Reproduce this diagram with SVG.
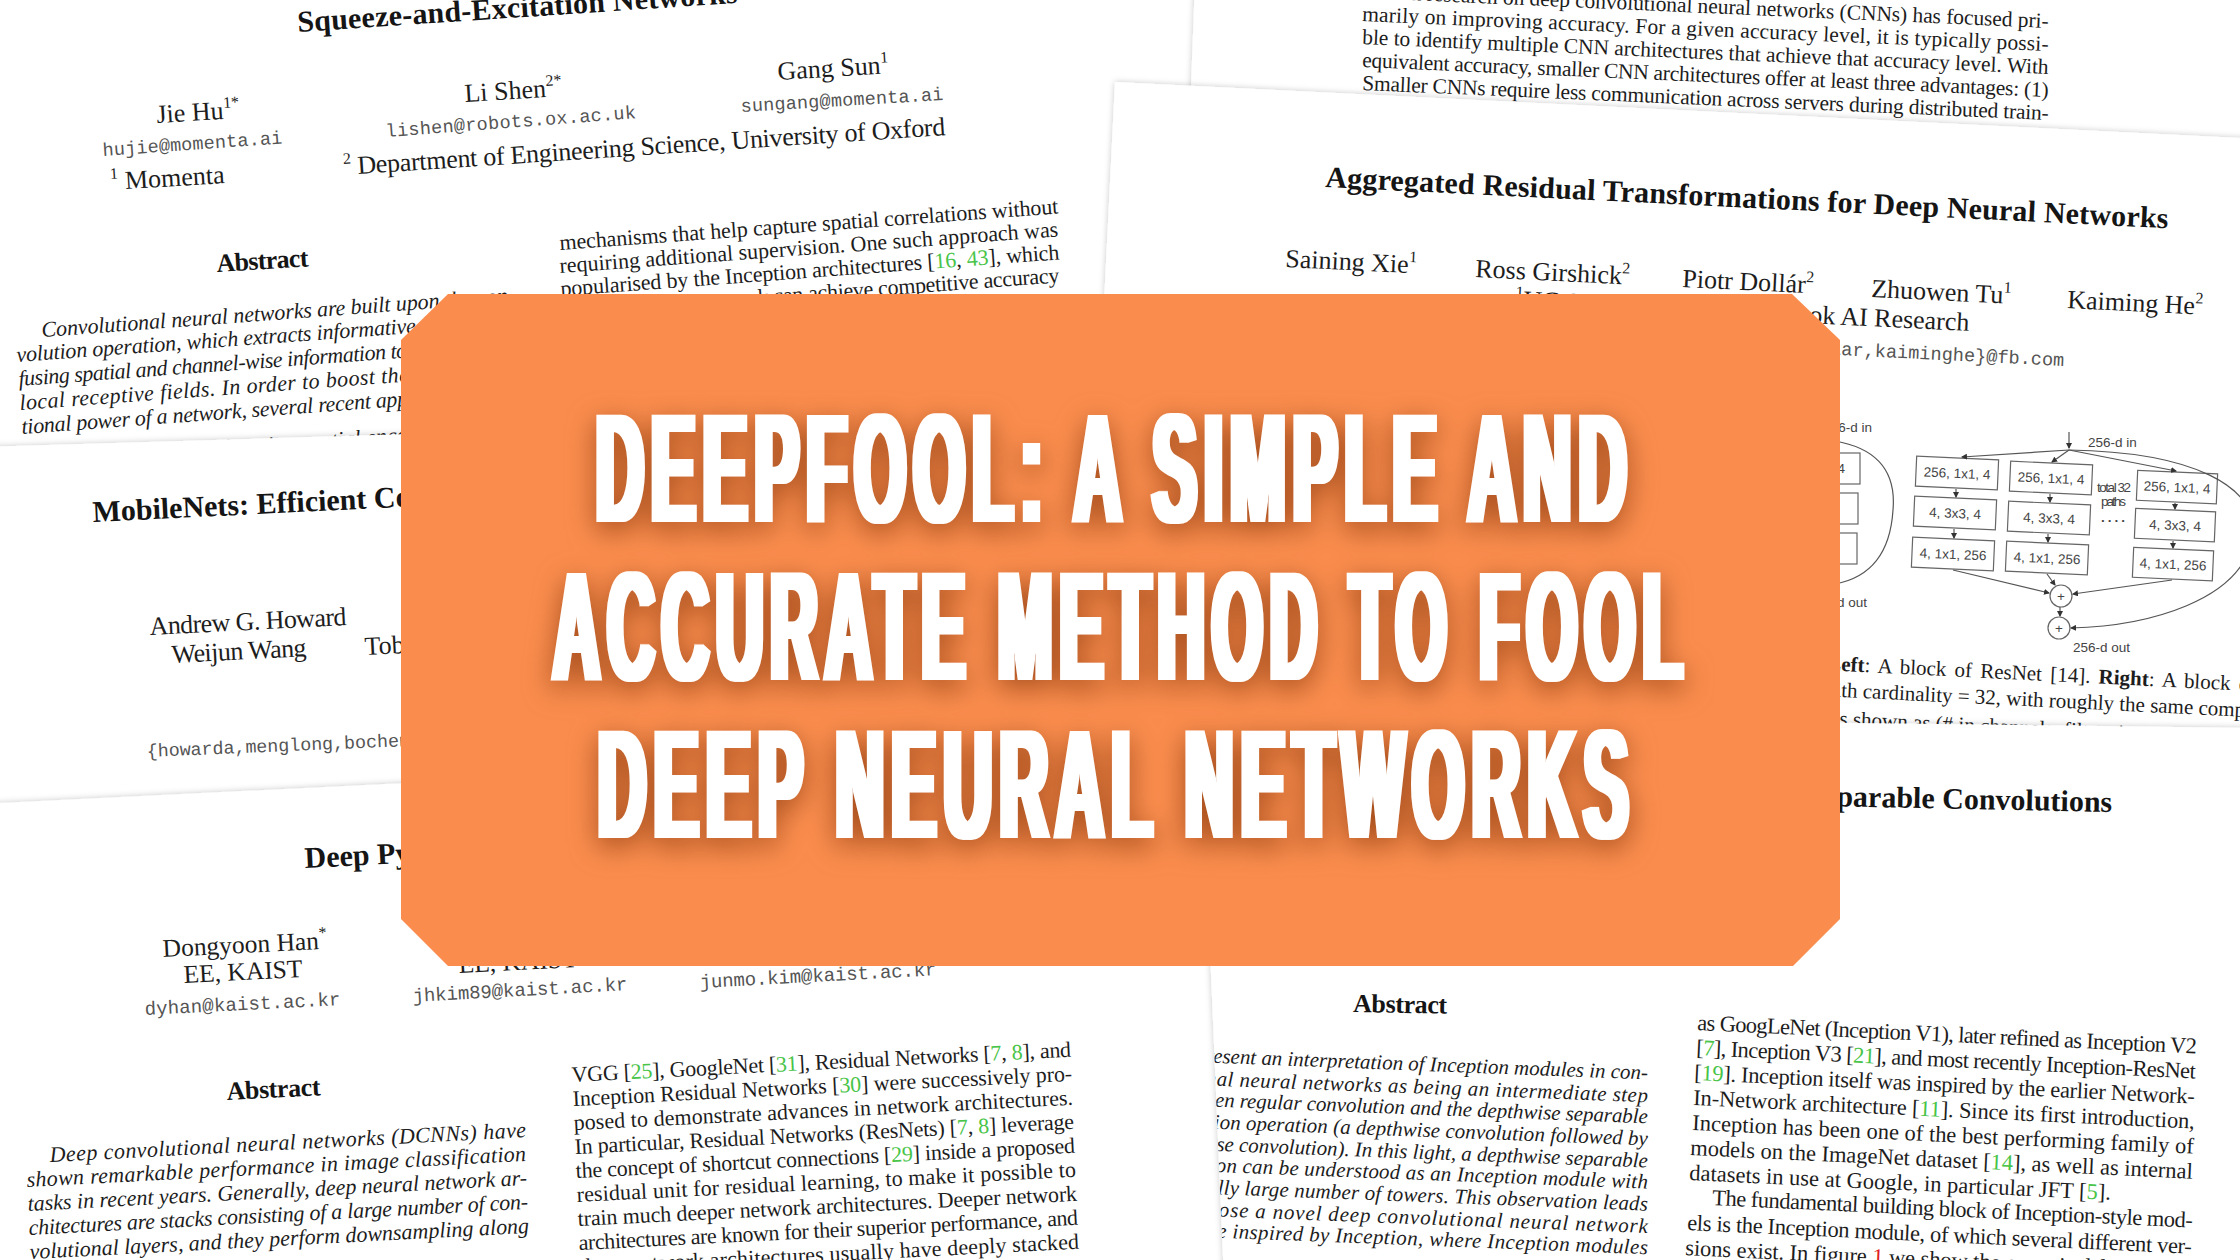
<svg xmlns="http://www.w3.org/2000/svg" width="2240" height="1260" viewBox="0 0 2240 1260">
<defs>
<style>
.s{font-family:"Liberation Serif","Times New Roman",serif;fill:#1d1d1d}
.sb{font-family:"Liberation Serif","Times New Roman",serif;font-weight:bold;fill:#151515}
.si{font-family:"Liberation Serif","Times New Roman",serif;font-style:italic;fill:#1d1d1d}
.m{font-family:"Liberation Mono","Courier New",monospace;fill:#555}
.g{fill:#48c448}
.r{fill:#e02020}
.paper{fill:#fff;filter:url(#psh)}
.fig{font-family:"Liberation Sans",Arial,sans-serif;font-size:13.5px;fill:#444}
.box{fill:#fff;stroke:#666;stroke-width:1.2}
.ln{fill:none;stroke:#555;stroke-width:1.2}
.ttl{font-family:"Liberation Sans",Arial,sans-serif;font-weight:bold;font-size:156px;letter-spacing:18px;fill:#fff}
</style>
<filter id="psh" x="-5%" y="-5%" width="110%" height="110%">
<feDropShadow dx="0" dy="0" stdDeviation="3" flood-color="#000" flood-opacity="0.22"/>
</filter>
<filter id="tfx" x="-6%" y="-20%" width="112%" height="140%" color-interpolation-filters="sRGB">
<feMorphology in="SourceGraphic" operator="dilate" radius="3.5 0" result="fat"/>
<feGaussianBlur in="fat" stdDeviation="14" result="blur"/>
<feFlood flood-color="#86360a" flood-opacity="0.75"/>
<feComposite operator="in" in2="blur" result="shadow"/>
<feOffset in="shadow" dx="0" dy="8" result="sh2"/>
<feMerge><feMergeNode in="sh2"/><feMergeNode in="fat"/></feMerge>
</filter>
<marker id="ah" viewBox="0 0 6 6" refX="5" refY="3" markerWidth="5" markerHeight="5" orient="auto"><path d="M0,0 L6,3 L0,6 z" fill="#333"/></marker>
<clipPath id="clipD"><polygon points="1200,715 2240,728 2240,1260 1223,1260"/></clipPath>
</defs>

<rect x="0" y="0" width="2240" height="1260" fill="#fff"/>

<!-- Paper A: Squeeze-and-Excitation Networks -->
<g id="paper-senet">
<rect class="paper" x="-20" y="-20" width="1230" height="560"/>
<text class="sb" font-size="30" x="298" y="32" transform="rotate(-3.8 298 32)" textLength="441">Squeeze-and-Excitation Networks</text>
<text class="s" font-size="26" x="157" y="123" transform="rotate(-3.5 157 123)">Jie Hu<tspan font-size="16" dy="-11">1*</tspan></text>
<text class="m" font-size="18.5" x="103" y="156" transform="rotate(-4 103 156)" textLength="180">hujie@momenta.ai</text>
<text class="s" font-size="26" x="111" y="190" transform="rotate(-3.5 111 190)"><tspan font-size="16" dy="-11">1</tspan><tspan dy="11"> Momenta</tspan></text>
<text class="s" font-size="26" x="465" y="102" transform="rotate(-3.5 465 102)">Li Shen<tspan font-size="16" dy="-11">2*</tspan></text>
<text class="m" font-size="18.5" x="386" y="137" transform="rotate(-4.3 386 137)" textLength="251">lishen@robots.ox.ac.uk</text>
<text class="s" font-size="26" x="778" y="80" transform="rotate(-3.5 778 80)">Gang Sun<tspan font-size="16" dy="-11">1</tspan></text>
<text class="m" font-size="18.5" x="741" y="112" transform="rotate(-3.4 741 112)" textLength="203">sungang@momenta.ai</text>
<text class="s" font-size="26" x="344" y="175" transform="rotate(-3.8 344 175)" textLength="603"><tspan font-size="16" dy="-11">2</tspan><tspan dy="11"> Department of Engineering Science, University of Oxford</tspan></text>
<text class="sb" font-size="26" x="217" y="272" transform="rotate(-3.5 217 272)" textLength="92">Abstract</text>
<g class="si" font-size="22">
<text x="42" y="337" transform="rotate(-4.2 42 337)" textLength="475">Convolutional neural networks are built upon the con-</text>
<text x="17" y="362" transform="rotate(-4.2 17 362)" textLength="500">volution operation, which extracts informative features by</text>
<text x="19" y="386" transform="rotate(-4.2 19 386)" textLength="500">fusing spatial and channel-wise information together within</text>
<text x="20" y="410" transform="rotate(-4.2 20 410)" textLength="500">local receptive fields.  In order to boost the representa-</text>
<text x="22" y="434" transform="rotate(-4.2 22 434)" textLength="500">tional power of a network, several recent approaches have</text>
<text x="23" y="470" transform="rotate(-4.2 23 470)">shown the benefit of enhancing spatial encoding.</text>
</g>
<g class="s" font-size="22">
<text x="560" y="250" transform="rotate(-4.2 560 250)" textLength="500">mechanisms that help capture spatial correlations without</text>
<text x="560" y="273" transform="rotate(-4.2 560 273)" textLength="500">requiring additional supervision.  One such approach was</text>
<text x="561" y="296" transform="rotate(-4.2 561 296)" textLength="500">popularised by the Inception architectures [<tspan class="g">16</tspan>, <tspan class="g">43</tspan>], which</text>
<text x="561" y="319" transform="rotate(-4.2 561 319)" textLength="500">showed that the network can achieve competitive accuracy</text>
</g>
</g>

<!-- Paper B: SqueezeNet text -->
<g id="paper-squeezenet">
<polygon class="paper" points="1195,-20 2260,-20 2260,220 1186,220"/>
<g class="s" font-size="21.5">
<text x="1362" y="-2" transform="rotate(2.5 1362 -2)" textLength="687">Recent research on deep convolutional neural networks (CNNs) has focused pri-</text>
<text x="1362" y="21" transform="rotate(2.5 1362 21)" textLength="687">marily on improving accuracy.  For a given accuracy level, it is typically possi-</text>
<text x="1362" y="44" transform="rotate(2.5 1362 44)" textLength="687">ble to identify multiple CNN architectures that achieve that accuracy level.  With</text>
<text x="1362" y="67" transform="rotate(2.5 1362 67)" textLength="687">equivalent accuracy, smaller CNN architectures offer at least three advantages: (1)</text>
<text x="1362" y="90" transform="rotate(2.5 1362 90)" textLength="687">Smaller CNNs require less communication across servers during distributed train-</text>
</g>
</g>

<!-- Paper C: ResNeXt -->
<g id="paper-resnext">
<rect class="paper" x="1115" y="82" width="1200" height="680" transform="rotate(2.85 1115 82)"/>
<text class="sb" font-size="30" x="1325" y="187" transform="rotate(2.8 1325 187)" textLength="844">Aggregated Residual Transformations for Deep Neural Networks</text>
<text class="s" font-size="26" x="1285" y="267" transform="rotate(2.8 1285 267)">Saining Xie<tspan font-size="16" dy="-11">1</tspan></text>
<text class="s" font-size="26" x="1475" y="277" transform="rotate(2.8 1475 277)">Ross Girshick<tspan font-size="16" dy="-11">2</tspan></text>
<text class="s" font-size="26" x="1682" y="287" transform="rotate(2.8 1682 287)">Piotr Dollár<tspan font-size="16" dy="-11">2</tspan></text>
<text class="s" font-size="26" x="1871" y="297" transform="rotate(2.8 1871 297)">Zhuowen Tu<tspan font-size="16" dy="-11">1</tspan></text>
<text class="s" font-size="26" x="2067" y="308" transform="rotate(2.8 2067 308)">Kaiming He<tspan font-size="16" dy="-11">2</tspan></text>
<text class="s" font-size="26" x="1515" y="308" transform="rotate(2.8 1515 308)"><tspan font-size="16" dy="-11">1</tspan><tspan dy="11">UC San Diego</tspan></text>
<text class="s" font-size="26" x="1969" y="331" text-anchor="end" transform="rotate(2.8 1969 331)"><tspan font-size="16" dy="-11">2</tspan><tspan dy="11">Facebook AI Research</tspan></text>
<text class="m" font-size="18.6" x="2064" y="366" text-anchor="end" transform="rotate(2.8 2064 366)">{s9xie,ztu}@ucsd.edu  {rbg,pdollar,kaiminghe}@fb.com</text>

<g id="resnet-block">
<rect class="box" x="1770" y="453" width="90" height="31"/>
<rect class="box" x="1768" y="493" width="90" height="31"/>
<rect class="box" x="1767" y="533" width="90" height="31"/>
<text class="fig" x="1845" y="473" text-anchor="end">256, 1x1, 64</text>
<text class="fig" x="1872" y="432" text-anchor="end" font-size="12.5">256-d in</text>
<text class="fig" x="1867" y="607" text-anchor="end" font-size="12.5">256-d out</text>
</g>
<g id="resnext-block">
<g transform="rotate(2.5 1957 473)"><rect class="box" x="1916" y="458" width="82" height="30"/><text class="fig" x="1957" y="478" text-anchor="middle">256, 1x1, 4</text></g>
<g transform="rotate(2.5 1955 513)"><rect class="box" x="1914" y="498" width="82" height="30"/><text class="fig" x="1955" y="518" text-anchor="middle">4, 3x3, 4</text></g>
<g transform="rotate(2.5 1953 554)"><rect class="box" x="1912" y="539" width="82" height="30"/><text class="fig" x="1953" y="559" text-anchor="middle">4, 1x1, 256</text></g>
<g transform="rotate(2.5 2051 478)"><rect class="box" x="2010" y="463" width="82" height="30"/><text class="fig" x="2051" y="483" text-anchor="middle">256, 1x1, 4</text></g>
<g transform="rotate(2.5 2049 518)"><rect class="box" x="2008" y="503" width="82" height="30"/><text class="fig" x="2049" y="523" text-anchor="middle">4, 3x3, 4</text></g>
<g transform="rotate(2.5 2047 558)"><rect class="box" x="2006" y="543" width="82" height="30"/><text class="fig" x="2047" y="563" text-anchor="middle">4, 1x1, 256</text></g>
<g transform="rotate(2.5 2176 487)"><rect class="box" x="2137" y="472" width="80" height="30"/><text class="fig" x="2177" y="492" text-anchor="middle">256, 1x1, 4</text></g>
<g transform="rotate(2.5 2174 525)"><rect class="box" x="2135" y="510" width="80" height="30"/><text class="fig" x="2175" y="530" text-anchor="middle">4, 3x3, 4</text></g>
<g transform="rotate(2.5 2172 564)"><rect class="box" x="2133" y="549" width="80" height="30"/><text class="fig" x="2173" y="569" text-anchor="middle">4, 1x1, 256</text></g>
<text class="fig" x="2088" y="447" font-size="12.5">256-d in</text>
<text class="fig" x="2097" y="492" font-size="10.5" textLength="34">total 32</text>
<text class="fig" x="2101" y="506" font-size="10.5" textLength="25">paths</text>
<text class="fig" x="2101" y="522" font-size="13" font-weight="bold" textLength="24">....</text>
<circle class="box" cx="2061" cy="596" r="11"/>
<circle class="box" cx="2059" cy="628" r="11"/>
<text class="fig" x="2061" y="601" text-anchor="middle" font-size="14">+</text>
<text class="fig" x="2059" y="633" text-anchor="middle" font-size="14">+</text>
<text class="fig" x="2073" y="652" font-size="12.5">256-d out</text>
</g>
<g id="resnext-connectors">
<path class="ln" d="M1835,441 Q1898,452 1893,510 Q1889,574 1835,584"/>
<line class="ln" x1="2069" y1="432" x2="2069" y2="448" marker-end="url(#ah)"/>
<line class="ln" x1="2069" y1="450" x2="1962" y2="457" marker-end="url(#ah)"/>
<line class="ln" x1="2069" y1="450" x2="2052" y2="462" marker-end="url(#ah)"/>
<line class="ln" x1="2069" y1="450" x2="2176" y2="471" marker-end="url(#ah)"/>
<line class="ln" x1="1956" y1="489" x2="1956" y2="497" marker-end="url(#ah)"/>
<line class="ln" x1="1954" y1="529" x2="1954" y2="538" marker-end="url(#ah)"/>
<line class="ln" x1="2050" y1="494" x2="2050" y2="502" marker-end="url(#ah)"/>
<line class="ln" x1="2048" y1="534" x2="2048" y2="542" marker-end="url(#ah)"/>
<line class="ln" x1="2175" y1="503" x2="2175" y2="509" marker-end="url(#ah)"/>
<line class="ln" x1="2173" y1="541" x2="2173" y2="548" marker-end="url(#ah)"/>
<line class="ln" x1="1953" y1="570" x2="2049" y2="593" marker-end="url(#ah)"/>
<line class="ln" x1="2047" y1="574" x2="2055" y2="585" marker-end="url(#ah)"/>
<line class="ln" x1="2172" y1="580" x2="2073" y2="594" marker-end="url(#ah)"/>
<line class="ln" x1="2060" y1="607" x2="2060" y2="616" marker-end="url(#ah)"/>
<path class="ln" d="M2069,450 C2190,452 2262,485 2252,540 C2240,600 2150,626 2071,628" marker-end="url(#ah)"/>
</g>
<g class="s" font-size="21">
<text x="1740" y="666" word-spacing="3" transform="rotate(2.8 1740 666)">Figure 1. <tspan font-weight="bold">Left</tspan>: A block of ResNet [14]. <tspan font-weight="bold">Right</tspan>: A block of ResNeXt</text>
<text x="1820" y="696" transform="rotate(2.8 1820 696)">with cardinality = 32, with roughly the same complexity.</text>
<text x="1767" y="722" transform="rotate(2.8 1767 722)">A layer is shown as (# in channels, filter size, # out channels).</text>
</g>
</g>

<!-- Paper E: MobileNets -->
<g id="paper-mobilenets">
<polygon class="paper" points="-20,447 1250,409 1250,740 -20,804"/>
<text class="sb" font-size="30" x="93" y="522" transform="rotate(-2.8 93 522)">MobileNets: Efficient Convolutional Neural Networks for Mobile Vision Applications</text>
<text class="s" font-size="26" x="150" y="635" transform="rotate(-2.9 150 635)" textLength="197">Andrew G. Howard</text>
<text class="s" font-size="26" x="172" y="663" transform="rotate(-2.9 172 663)" textLength="135">Weijun Wang</text>
<text class="s" font-size="26" x="365" y="655" transform="rotate(-2.9 365 655)">Tobias Weyand</text>
<text class="m" font-size="18.3" x="147" y="757" transform="rotate(-2.4 147 757)">{howarda,menglong,bochen,dkalenichenko,weijunw,tobiasweyand,andreetto,hadam}@google.com</text>
</g>

<!-- Paper F: Deep Pyramidal Residual Networks -->
<g id="paper-pyramidnet">
<polygon class="paper" points="-20,804 1250,741 1250,1280 -20,1280"/>
<text class="sb" font-size="30" x="305" y="868" transform="rotate(-2.9 305 868)">Deep Pyramidal Residual Networks</text>
<text class="s" font-size="25.5" x="163" y="957" transform="rotate(-2.9 163 957)">Dongyoon Han<tspan font-size="16" dy="-11">*</tspan></text>
<text class="s" font-size="25.5" x="184" y="983" transform="rotate(-2.9 184 983)">EE, KAIST</text>
<text class="s" font-size="25.5" x="459" y="973" transform="rotate(-2.9 459 973)">EE, KAIST</text>
<text class="m" font-size="19" x="145" y="1015" transform="rotate(-2.9 145 1015)" textLength="196">dyhan@kaist.ac.kr</text>
<text class="m" font-size="19" x="413" y="1002" transform="rotate(-3.2 413 1002)" textLength="215">jhkim89@kaist.ac.kr</text>
<text class="m" font-size="19" x="700" y="988" transform="rotate(-3.1 700 988)" textLength="237">junmo.kim@kaist.ac.kr</text>
<text class="sb" font-size="26" x="227" y="1100" transform="rotate(-2.9 227 1100)" textLength="94">Abstract</text>
<g class="si" font-size="22">
<text x="50" y="1162" transform="rotate(-3 50 1162)" textLength="477">Deep convolutional neural networks (DCNNs) have</text>
<text x="27" y="1187" transform="rotate(-3 27 1187)" textLength="500">shown remarkable performance in image classification</text>
<text x="28" y="1211" transform="rotate(-3 28 1211)" textLength="500">tasks in recent years.  Generally, deep neural network ar-</text>
<text x="29" y="1235" transform="rotate(-3 29 1235)" textLength="500">chitectures are stacks consisting of a large number of con-</text>
<text x="30" y="1259" transform="rotate(-3 30 1259)" textLength="500">volutional layers, and they perform downsampling along</text>
</g>
<g class="s" font-size="22">
<text x="572" y="1082" transform="rotate(-2.9 572 1082)" textLength="500">VGG [<tspan class="g">25</tspan>], GoogleNet [<tspan class="g">31</tspan>], Residual Networks [<tspan class="g">7</tspan>, <tspan class="g">8</tspan>], and</text>
<text x="573" y="1106" transform="rotate(-2.9 573 1106)" textLength="500">Inception Residual Networks [<tspan class="g">30</tspan>] were successively pro-</text>
<text x="574" y="1130" transform="rotate(-2.9 574 1130)" textLength="500">posed to demonstrate advances in network architectures.</text>
<text x="575" y="1154" transform="rotate(-2.9 575 1154)" textLength="500">In particular, Residual Networks (ResNets) [<tspan class="g">7</tspan>, <tspan class="g">8</tspan>] leverage</text>
<text x="576" y="1178" transform="rotate(-2.9 576 1178)" textLength="500">the concept of shortcut connections [<tspan class="g">29</tspan>] inside a proposed</text>
<text x="577" y="1202" transform="rotate(-2.9 577 1202)" textLength="500">residual unit for residual learning, to make it possible to</text>
<text x="578" y="1226" transform="rotate(-2.9 578 1226)" textLength="500">train much deeper network architectures.  Deeper network</text>
<text x="579" y="1250" transform="rotate(-2.9 579 1250)" textLength="500">architectures are known for their superior performance, and</text>
<text x="580" y="1274" transform="rotate(-2.9 580 1274)" textLength="500">these network architectures usually have deeply stacked</text>
</g>
</g>

<!-- Paper D: Xception -->
<g id="paper-xception">
<polygon class="paper" points="1200,715 2260,728 2260,1280 1224,1280"/>
<g clip-path="url(#clipD)">
<text class="sb" font-size="30" x="2112" y="812" text-anchor="end" transform="rotate(1.2 2112 812)">Xception: Deep Learning with Depthwise Separable Convolutions</text>
<text class="sb" font-size="26" x="1353" y="1012" transform="rotate(1 1353 1012)" textLength="94">Abstract</text>
<g class="si" font-size="21">
<text x="1165" y="1061" transform="rotate(2.2 1165 1061)" textLength="483">We present an interpretation of Inception modules in con-</text>
<text x="1144" y="1083" transform="rotate(2.2 1144 1083)" textLength="504">volutional neural networks as being an intermediate step</text>
<text x="1143" y="1104" transform="rotate(2.2 1143 1104)" textLength="505">in-between regular convolution and the depthwise separable</text>
<text x="1141" y="1126" transform="rotate(2.2 1141 1126)" textLength="507">convolution operation (a depthwise convolution followed by</text>
<text x="1138" y="1148" transform="rotate(2.2 1138 1148)" textLength="510">a pointwise convolution). In this light, a depthwise separable</text>
<text x="1136" y="1169" transform="rotate(2.2 1136 1169)" textLength="512">convolution can be understood as an Inception module with</text>
<text x="1134" y="1191" transform="rotate(2.2 1134 1191)" textLength="514">a maximally large number of towers. This observation leads</text>
<text x="1126" y="1213" transform="rotate(2.2 1126 1213)" textLength="522">us to propose a novel deep convolutional neural network</text>
<text x="1121" y="1234" transform="rotate(2.2 1121 1234)" textLength="527">architecture inspired by Inception, where Inception modules</text>
</g>
<g class="s" font-size="22.5">
<text x="1697" y="1030" transform="rotate(2.7 1697 1030)" textLength="500">as GoogLeNet (Inception V1), later refined as Inception V2</text>
<text x="1696" y="1055" transform="rotate(2.7 1696 1055)" textLength="500">[<tspan class="g">7</tspan>], Inception V3 [<tspan class="g">21</tspan>], and most recently Inception-ResNet</text>
<text x="1694" y="1080" transform="rotate(2.7 1694 1080)" textLength="501">[<tspan class="g">19</tspan>]. Inception itself was inspired by the earlier Network-</text>
<text x="1693" y="1105" transform="rotate(2.7 1693 1105)" textLength="502">In-Network architecture [<tspan class="g">11</tspan>].  Since its first introduction,</text>
<text x="1692" y="1130" transform="rotate(2.7 1692 1130)" textLength="502">Inception has been one of the best performing family of</text>
<text x="1690" y="1155" transform="rotate(2.7 1690 1155)" textLength="503">models on the ImageNet dataset [<tspan class="g">14</tspan>], as well as internal</text>
<text x="1689" y="1180" transform="rotate(2.7 1689 1180)">datasets in use at Google, in particular JFT [<tspan class="g">5</tspan>].</text>
<text x="1712" y="1205" transform="rotate(2.7 1712 1205)" textLength="481">The fundamental building block of Inception-style mod-</text>
<text x="1687" y="1230" transform="rotate(2.7 1687 1230)" textLength="505">els is the Inception module, of which several different ver-</text>
<text x="1685" y="1255" transform="rotate(2.7 1685 1255)" textLength="506">sions exist. In figure <tspan class="r">1</tspan> we show the canonical form of an</text>
</g>
</g>
</g>

<!-- Title banner -->
<g id="banner">
<polygon points="448,294 1792,294 1840,340 1840,919 1793,966 448,966 401,919 401,340" fill="#fa8d4e"/>
<g filter="url(#tfx)">
<text class="ttl" x="596" y="522" textLength="1038" lengthAdjust="spacingAndGlyphs">DEEPFOOL: A SIMPLE AND</text>
<text class="ttl" x="553" y="680" textLength="1137" lengthAdjust="spacingAndGlyphs">ACCURATE METHOD TO FOOL</text>
<text class="ttl" x="598" y="838" textLength="1038" lengthAdjust="spacingAndGlyphs">DEEP NEURAL NETWORKS</text>
</g>
</g>
</svg>
